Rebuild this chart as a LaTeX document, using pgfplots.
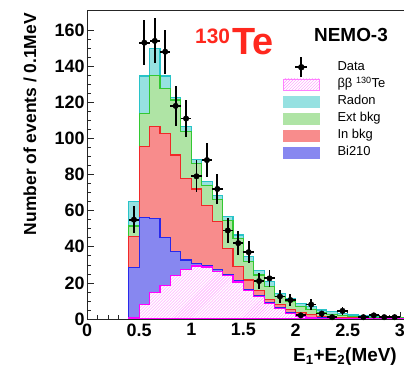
\documentclass[border=0pt]{standalone}
\usepackage{fontspec}
\setmainfont{Liberation Sans}
\usepackage{pgfplots}
\usepackage{pgfplotstable}
\pgfplotsset{compat=1.18}
\usetikzlibrary{patterns}

\definecolor{cRnF}{RGB}{150,225,225}
\definecolor{cRnL}{RGB}{40,195,200}
\definecolor{cExF}{RGB}{175,228,165}
\definecolor{cExL}{RGB}{50,200,50}
\definecolor{cInF}{RGB}{248,140,140}
\definecolor{cInL}{RGB}{240,40,40}
\definecolor{cBiF}{RGB}{135,135,240}
\definecolor{cBiL}{RGB}{40,40,235}
\definecolor{cBbL}{RGB}{255,0,255}
\definecolor{cBbH}{RGB}{255,150,255}
\definecolor{cTe}{RGB}{255,40,30}

\pgfplotstableread{
x   rn    ext   inb   bi    bb
0.4 65    51.5  45.6  28.6  0.5
0.5 134.5 113.9 95.4  56    8
0.6 150   135   106.5 55.7  14.6
0.7 134.5 127.7 102.8 45    18.6
0.8 122.7 121.3 90.8  37.3  24
0.9 106.5 103.7 78    32.7  27.5
1.0 88.4  86    72    30.7  29.3
1.1 76    74    63    29.8  28.8
1.2 68.2  66.3  54    27.2  26.5
1.3 56.6  54.6  39    24.6  24
1.4 46.5  44.7  29    21    20.5
1.5 34.5  31.7  21.6  16.4  16
1.6 27    24.4  16    12.7  12.4
1.7 20.7  17.9  11    9     8.7
1.8 14.2  12.4  8     6.1   5.9
1.9 11.4  9.6   5.2   3.4   3.2
2.0 8.7   6.8   3.5   1.6   1.5
2.1 6.8   5.2   2.3   0.9   0.8
2.2 5     3.6   1.5   0.5   0.4
2.3 4     2.7   1     0.3   0.2
2.4 3.1   2     0.7   0.2   0.1
2.5 2.2   1.4   0.5   0.1   0.05
2.6 1.7   1.1   0.4   0.1   0
2.7 1.4   0.9   0.3   0.1   0
2.8 1.3   0.8   0.2   0     0
2.9 1.1   0.7   0.2   0     0
3.0 1.0   0.6   0.1   0     0
3.1 1.0   0.6   0.1   0     0
}\histtab

\pgfplotsset{
  boxleg/.style={legend image code/.code={\draw[##1] (0bp,-5.5bp) rectangle (36bp,5.5bp);}},
}

\begin{document}
\begin{tikzpicture}
\begin{axis}[
  scale only axis, width=323.3bp, height=309bp,
  xmin=0, xmax=3.1, ymin=0, ymax=171.1,
  axis line style={line width=0.8bp, black!85},
  tick align=inside, xtick pos=bottom, ytick pos=left,
  xtick={0,0.5,1,1.5,2,2.5,3}, ytick={0,20,40,60,80,100,120,140,160},
  minor x tick num=4, minor y tick num=3,
  major tick length=7bp, minor tick length=4bp,
  tick style={black!85, line width=0.6bp},
  /pgf/number format/assume math mode=true,
  tick label style={font=\fontsize{18}{18}\selectfont\bfseries},
  xticklabel style={yshift=-1bp},
  yticklabel style={xshift=1bp},
  legend style={draw=none, fill=none, at={(0.606,0.838)}, anchor=north west,
    inner sep=0pt, row sep=3bp, font=\fontsize{13}{13}\selectfont,
    nodes={inner sep=1bp, text height=9.5bp, text depth=2.5bp},
    /tikz/every odd column/.append style={column sep=17bp}},
  legend cell align=left,
]
\addlegendimage{legend image code/.code={%
  \draw[black,line width=1.8bp,overlay] (18bp,-10bp)--(18bp,10bp);
  \draw[black,line width=1.8bp] (12bp,0bp)--(24bp,0bp);
  \fill[black] (18bp,0bp) circle (3bp);
  \path[draw=none,fill=none] (0bp,-5.5bp) rectangle (36bp,5.5bp);}}
\addlegendentry{Data}
\addlegendimage{boxleg, draw=cBbL!50, fill=white, postaction={pattern=north east lines, pattern color=cBbH}}
\addlegendentry{ββ \textsuperscript{130}Te}
\addlegendimage{boxleg, draw=cRnF, fill=cRnF}
\addlegendentry{Radon}
\addlegendimage{boxleg, draw=cExF, fill=cExF}
\addlegendentry{Ext bkg}
\addlegendimage{boxleg, draw=cInF, fill=cInF}
\addlegendentry{In bkg}
\addlegendimage{boxleg, draw=cBiF, fill=cBiF}
\addlegendentry{Bi210}

\addplot[const plot mark left, draw=cRnL, line width=1.2bp, fill=cRnF, forget plot] table[x=x,y=rn]{\histtab} \closedcycle;
\addplot[const plot mark left, draw=cExL, line width=1.2bp, fill=cExF, forget plot] table[x=x,y=ext]{\histtab} \closedcycle;
\addplot[const plot mark left, draw=cInL, line width=1.2bp, fill=cInF, forget plot] table[x=x,y=inb]{\histtab} \closedcycle;
\addplot[const plot mark left, draw=cBiL, line width=1.2bp, fill=cBiF, forget plot] table[x=x,y=bi]{\histtab} \closedcycle;
\addplot[const plot mark left, draw=cBbL, line width=1.2bp, fill=white, postaction={pattern=north east lines, pattern color=cBbH}, forget plot] table[x=x,y=bb]{\histtab} \closedcycle;

\addplot[only marks, mark=*, mark size=2.8bp, black, forget plot,
  error bars/.cd, x dir=both, x explicit, y dir=both, y explicit,
  error bar style={line width=1.8bp}, error mark=none]
coordinates {
(0.45,55) +- (0.05,7.4)
(0.55,153) +- (0.05,12.4)
(0.65,154) +- (0.05,12.4)
(0.75,148) +- (0.05,12.2)
(0.85,118) +- (0.05,10.9)
(0.95,111) +- (0.05,10.5)
(1.05,79) +- (0.05,8.9)
(1.15,88) +- (0.05,9.4)
(1.25,72) +- (0.05,8.5)
(1.35,49) +- (0.05,7)
(1.45,42) +- (0.05,6.5)
(1.55,37) +- (0.05,6.1)
(1.65,21) +- (0.05,4.6)
(1.75,22.5) +- (0.05,4.7)
(1.85,12.5) +- (0.05,3.5)
(1.95,10.5) +- (0.05,3.2)
(2.05,2) +- (0.05,1.4)
(2.15,8) +- (0.05,2.8)
(2.25,3) +- (0.05,1.7)
(2.35,1) +- (0.05,1)
(2.45,4.5) +- (0.05,2.1)
(2.65,1) +- (0.05,1)
(2.75,2) +- (0.05,1.4)
(2.85,1) +- (0.05,1)
(2.95,1) +- (0.05,1)
};
\end{axis}
\node[anchor=base west, inner sep=0pt, text=cTe, font=\fontsize{21}{21}\selectfont\bfseries] at (108bp,275bp) {130};
\node[anchor=base west, inner sep=0pt, text=cTe, font=\fontsize{38}{38}\selectfont\bfseries] at (145bp,264bp) {Te};
\node[anchor=base west, inner sep=0pt, font=\fontsize{19}{19}\selectfont\bfseries] at (227bp,277bp) {NEMO-3};
\node[anchor=east, rotate=90, inner sep=0pt, font=\fontsize{17.5}{17.5}\selectfont\bfseries] at (-57bp,306bp) {Number of events / 0.1MeV};
\node[anchor=base west, inner sep=0pt, font=\fontsize{19}{19}\selectfont\bfseries] at (206bp,-42bp) {E\textsubscript{1}+E\textsubscript{2}(MeV)};
\pgfresetboundingbox
\path[use as bounding box] (-87bp,-48bp) rectangle (317bp,319bp);
\end{tikzpicture}
\end{document}
